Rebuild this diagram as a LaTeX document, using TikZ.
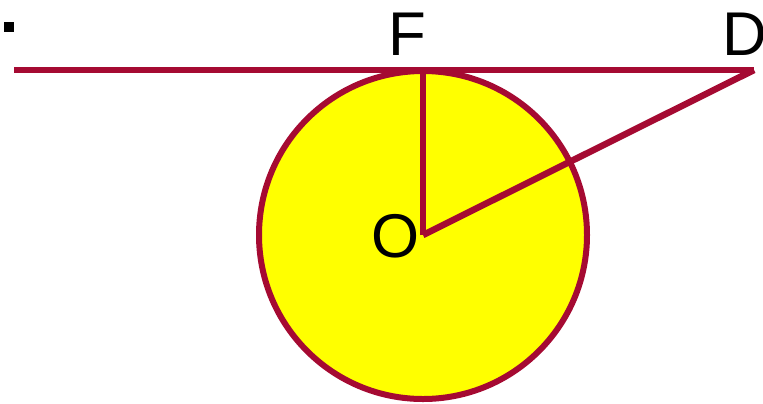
\documentclass[tikz,border=0pt]{standalone}
\usepackage{fontspec}
\setmainfont{Liberation Sans}
\definecolor{maroon}{RGB}{165,10,50}
\definecolor{sunyellow}{RGB}{255,255,0}
\begin{document}
\begin{tikzpicture}[x=1bp,y=-1bp,
  edge/.style={draw=maroon,line width=6.5bp},
  lab/.style={font=\fontsize{62}{62}\selectfont,inner sep=0pt,anchor=base}]
\useasboundingbox (0,0) rectangle (763,403);
\coordinate (O) at (423,235);
\coordinate (F) at (423,70);
\coordinate (D) at (754,70);
\coordinate (L) at (14,70);
\fill[black] (4,22) rectangle (14,32);
\filldraw[fill=sunyellow,draw=maroon,line width=6bp] (O) circle[radius=164];
\draw[edge] (L) -- (D);
\draw[edge] (O) -- (F);
\draw[edge] (O) -- (D);
\node[lab] (Flab) at (407.5,55) {F};
\node[lab] (Dlab) at (744.5,55) {D};
\node[font=\fontsize{62}{62}\selectfont,inner sep=0pt] (Olab) at (395.5,236) {O};
\end{tikzpicture}
\end{document}
